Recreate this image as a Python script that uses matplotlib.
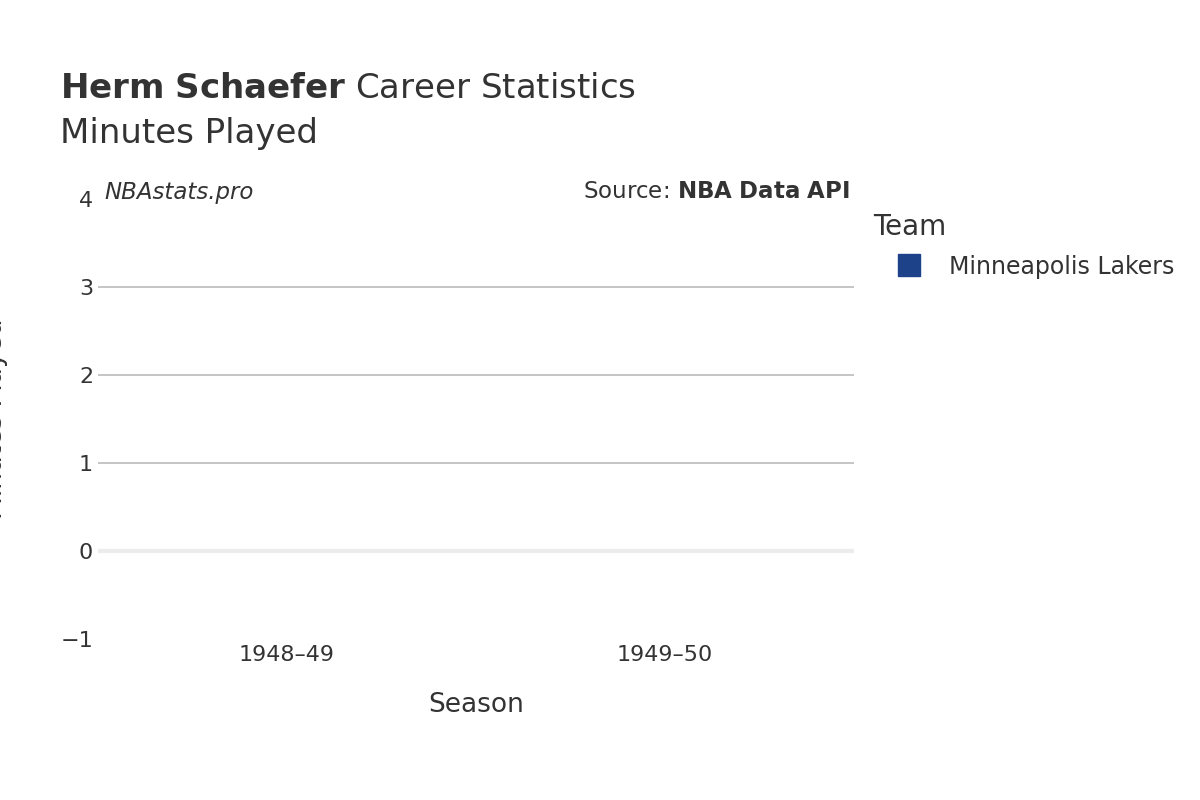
import matplotlib
matplotlib.use("Agg")
import matplotlib.pyplot as plt
from matplotlib.lines import Line2D

seasons = ["1948–49", "1949–50"]
minutes = [0, 0]
team = "Minneapolis Lakers"
color = "#1d428a"
yticks = [-1, 0, 1, 2, 3, 4]

fig = plt.figure(figsize=(12, 8), dpi=100)
ax = fig.add_axes([98/1200, 1-639/800, 756/1200, 440/800])
x = list(range(len(seasons)))
ax.bar(x, minutes, color=color, width=0.8)
ax.set_xlim(-0.5, 1.5)
ax.set_ylim(-1, 4)
ax.set_yticks(yticks)
ax.set_yticklabels(["−1", "0", "1", "2", "3", "4"])
ax.set_xticks(x)
ax.set_xticklabels(seasons)
for t in [1, 2, 3]:
    ax.axhline(t, color="#c0c0c0", lw=1.3, zorder=0)
ax.axhline(0, color="#ececec", lw=3, zorder=0)
for s in ax.spines.values():
    s.set_visible(False)
ax.tick_params(length=0, labelsize=16, colors="#333333")
ax.tick_params(axis="x", pad=4)
ax.set_xlabel("Season", fontsize=19, color="#333333", labelpad=20)
ax.set_ylabel("Minutes Played", fontsize=19, color="#333333", labelpad=38)

fig.text(60/1200, 1-89/800, r"$\bf{Herm\ Schaefer}$ Career Statistics", fontsize=24.5, color="#333333", va="center")
fig.text(60/1200, 1-133/800, "Minutes Played", fontsize=24.5, color="#333333", va="center")
fig.text(104/1200, 1-192/800, "NBAstats.pro", fontsize=16.5, style="italic", color="#333333", va="center")
fig.text(850/1200, 1-192/800, r"Source: $\bf{NBA\ Data\ API}$", fontsize=16.5, color="#333333", va="center", ha="right")
fig.text(873/1200, 1-227/800, "Team", fontsize=20, color="#333333", va="center")
fig.text(949/1200, 1-267/800, team, fontsize=17, color="#333333", va="center")
fig.add_artist(Line2D([909/1200], [1-265/800], marker="s", markersize=16, color=color, transform=fig.transFigure, linestyle=""))

fig.savefig("out.png")
